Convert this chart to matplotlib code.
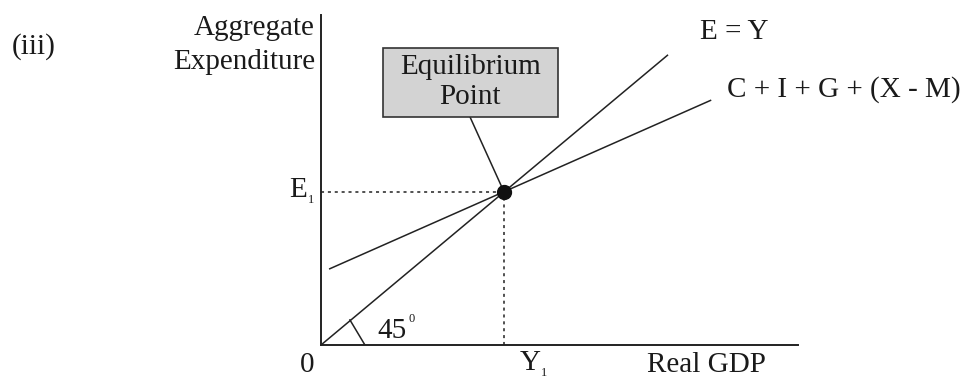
import matplotlib
matplotlib.use("Agg")
import matplotlib.pyplot as plt
from matplotlib.patches import Rectangle

# Keynesian cross values (arbitrary units)
y1 = 5.0          # equilibrium real GDP
e1 = 5.0          # equilibrium expenditure
eqy_x = [0.0, 9.48]         # E = Y line
eqy_y = [0.0, 9.48]
ae_x = [0.22, 10.66]        # C + I + G + (X - M)
ae_y = [2.48, 8.0]
angle_x = [0.79, 1.2]       # 45 degree marker
angle_y = [0.82, 0.0]

W, H = 963, 381
plt.rcParams['font.family'] = ['Liberation Serif', 'DejaVu Serif']

fig = plt.figure(figsize=(W / 100, H / 100), dpi=100)
# axes placed so the origin sits at pixel (321, 345)
ax = fig.add_axes([321 / W, (H - 345) / H, 477 / W, 330 / H])
ax.set_xlim(0, 13.03)
ax.set_ylim(0, 10.78)
for side in ['top', 'right']:
    ax.spines[side].set_visible(False)
for side in ['left', 'bottom']:
    ax.spines[side].set_linewidth(1.4)
    ax.spines[side].set_color('#222222')
ax.set_xticks([])
ax.set_yticks([])

lc = '#222222'
ax.plot(eqy_x, eqy_y, color=lc, lw=1.1, solid_capstyle='butt')
ax.plot(ae_x, ae_y, color=lc, lw=1.1, solid_capstyle='butt')
ax.plot(angle_x, angle_y, color=lc, lw=1.1)

# dotted guides
ax.plot([0, y1], [e1, e1], color=lc, lw=1.1, ls=(0, (2, 2.5)))
ax.plot([y1, y1], [0, e1], color=lc, lw=1.1, ls=(0, (2, 2.5)))

# equilibrium label box and leader line
ax.plot([4.07, y1], [7.45, e1], color=lc, lw=1.1)
ax.add_patch(Rectangle((1.69, 7.45), 4.79, 2.26, facecolor='#d3d3d3',
                       edgecolor='#333333', lw=1.2, clip_on=False, zorder=3))
ax.text(4.08, 9.08, 'Equilibrium', ha='center', va='center', fontsize=21,
        color='#1a1a1a', zorder=4)
ax.text(4.08, 8.1, 'Point', ha='center', va='center', fontsize=21,
        color='#1a1a1a', zorder=4)

ax.plot([y1], [e1], 'o', color='#111111', ms=10, zorder=5)


def px(x, y, s, size=21, ha='left', va='center'):
    fig.text(x / W, 1 - y / H, s, ha=ha, va=va, fontsize=size, color='#1a1a1a')


px(12, 47, '(iii)')
px(315, 28, 'Aggregate', ha='right')
px(315, 62, 'Expenditure', ha='right')
px(700, 32, 'E = Y')
px(727, 90, 'C + I + G + (X - M)')
px(289, 190, 'E')
px(308, 200, '1', size=9)
px(307, 365, '0', ha='center')
px(520, 363, 'Y')
px(541, 373, '1', size=9)
px(647, 365, 'Real GDP')
px(377, 331, '45')
px(408, 319, '0', size=9)

fig.savefig('out.png', dpi=100)
